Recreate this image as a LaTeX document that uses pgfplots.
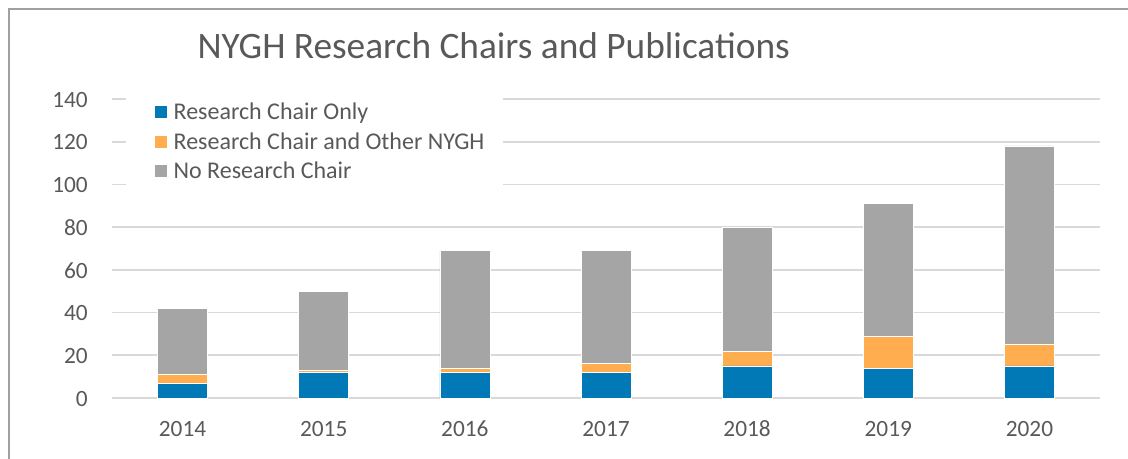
\documentclass[border=0pt]{standalone}
\usepackage{fontspec}
\setmainfont{Carlito}
\usepackage{pgfplots}
\pgfplotsset{compat=1.18}
\definecolor{cblue}{HTML}{0079B6}
\definecolor{corange}{HTML}{FFAD4F}
\definecolor{cgray}{HTML}{A5A5A5}
\definecolor{ctext}{HTML}{595959}
\definecolor{cgrid}{HTML}{D9D9D9}
\definecolor{cframe}{HTML}{A0A0A0}
\pgfplotsset{
  sqleg/.style={legend image code/.code={%
    \path (0pt,-6.275pt) -- (0pt,6.275pt);
    \fill[##1] (0pt,-3.475pt) rectangle (9.75pt,6.275pt);}}
}
\begin{document}
\begin{tikzpicture}
\path[use as bounding box] (0,0) rectangle (846pt,344.25pt);
\draw[cframe, line width=1.2pt] (6.75pt,0) -- (6.75pt,337.5pt) -- (846pt,337.5pt);
\node[anchor=base west, inner sep=0pt, font=\fontsize{28}{33}\selectfont, text=ctext] at (148pt,300pt) {NYGH Research Chairs and Publications};
\begin{axis}[
  at={(84pt,45.75pt)}, anchor=south west, scale only axis,
  width=741pt, height=224.25pt,
  ybar stacked, bar width=37.5pt,
  xmin=-0.5, xmax=6.5, ymin=0, ymax=140,
  xtick={0,1,2,3,4,5,6},
  xticklabels={2014,2015,2016,2017,2018,2019,2020},
  ytick={0,20,40,60,80,100,120,140},
  axis line style={draw=none}, tick style={draw=none},
  ymajorgrids, grid style={cgrid, line width=1.3pt},
  clip=false,
  /pgf/number format/assume math mode=true,
  ticklabel style={font=\fontsize{17.5}{21}\selectfont, text=ctext},
  yticklabel style={anchor=base east, inner sep=0pt, xshift=-18pt, yshift=-6.2pt},
  xticklabel style={anchor=base, inner sep=0pt, yshift=-29.25pt},
  legend style={at={(0.0425,0.997)}, anchor=north west, draw=none, fill=none,
    inner sep=0pt, outer sep=0pt, font=\fontsize{18}{21}\selectfont, text=ctext,
    row sep=1.2pt, column sep=4.5pt,
    nodes={inner sep=0pt, text height=14.7pt, text depth=6.3pt}, cells={anchor=west}},
]
\addplot[fill=cblue, draw=white, line width=0.5pt, sqleg] coordinates {(0,7) (1,12) (2,12) (3,12) (4,15) (5,14) (6,15)};
\addlegendentry{Research Chair Only}
\addplot[fill=corange, draw=white, line width=0.5pt, sqleg] coordinates {(0,4) (1,1) (2,2) (3,4) (4,7) (5,15) (6,10)};
\addlegendentry{Research Chair and Other NYGH}
\addplot[fill=cgray, draw=white, line width=0.5pt, sqleg] coordinates {(0,31) (1,37) (2,55) (3,53) (4,58) (5,62) (6,93)};
\addlegendentry{No Research Chair}
\fill[white] (axis cs:-0.4,97.4) rectangle (axis cs:2.27,143.3);
\end{axis}
\end{tikzpicture}
\end{document}
